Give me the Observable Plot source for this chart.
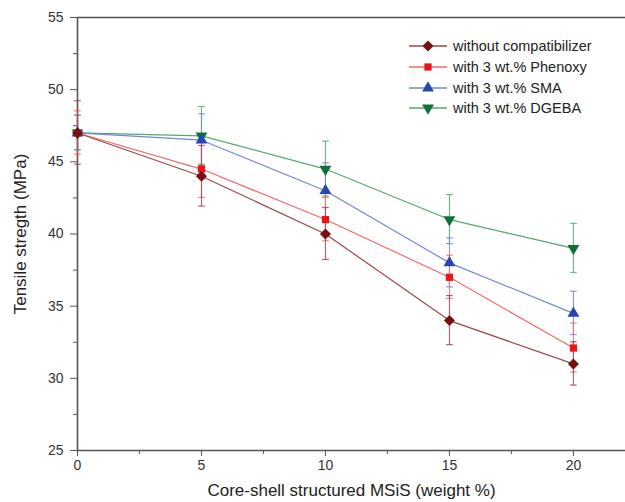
<!DOCTYPE html>
<html><head><meta charset="utf-8">
<script src="https://cdn.jsdelivr.net/npm/d3@7"></script>
<script src="https://cdn.jsdelivr.net/npm/@observablehq/plot@0.6"></script>
<style>
body{margin:0;background:#fff;font-family:"Liberation Sans",Arial,sans-serif;}
#wrap{position:relative;width:625px;height:502px;}
#legend{position:absolute;left:408px;top:36px;font-size:14.5px;color:#222;}
#legend .row{display:flex;align-items:center;height:20.7px;}
#legend svg{margin-right:5px;}
</style></head>
<body><div id="wrap"><div id="chart"></div><div id="legend"></div></div>
<script>
const loadings = [0, 5, 10, 15, 20];
const seriesNames = ["without compatibilizer", "with 3 wt.% Phenoxy", "with 3 wt.% SMA", "with 3 wt.% DGEBA"];
const withoutVals = [47, 44, 40, 34, 31];
const withoutErr = [2.2, 2.1, 1.8, 1.7, 1.5];
const phenoxyVals = [47, 44.5, 41, 37, 32.1];
const phenoxyErr = [1.5, 2.0, 1.5, 1.5, 1.7];
const smaVals = [47, 46.5, 43, 38, 34.5];
const smaErr = [1.2, 1.8, 1.9, 1.7, 1.5];
const dgebaVals = [47, 46.8, 44.5, 41, 39];
const dgebaErr = [1.2, 2.0, 1.9, 1.7, 1.7];
const yMajorTicks = [25, 30, 35, 40, 45, 50, 55];
const yMinorTicks = [27.5, 32.5, 37.5, 42.5, 47.5, 52.5];
const xMajorTicks = [0, 5, 10, 15, 20];
const xMinorTicks = [2.5, 7.5, 12.5, 17.5];

const triangleDown = {draw(ctx, size) {
  const s = Math.sqrt(size / (Math.sqrt(3) / 4));
  const h = s * Math.sqrt(3) / 2;
  ctx.moveTo(-s / 2, -h / 3);
  ctx.lineTo(s / 2, -h / 3);
  ctx.lineTo(0, 2 * h / 3);
  ctx.closePath();
}};
const triangleUp = {draw(ctx, size) {
  const s = Math.sqrt(size / (Math.sqrt(3) / 4));
  const h = s * Math.sqrt(3) / 2;
  ctx.moveTo(-s / 2, h / 3);
  ctx.lineTo(s / 2, h / 3);
  ctx.lineTo(0, -2 * h / 3);
  ctx.closePath();
}};
const diamond = {draw(ctx, size) {
  const r = Math.sqrt(size / 2);
  ctx.moveTo(0, -r); ctx.lineTo(r, 0); ctx.lineTo(0, r); ctx.lineTo(-r, 0); ctx.closePath();
}};
const square = {draw(ctx, size) {
  const r = Math.sqrt(size) / 2;
  ctx.rect(-r, -r, 2 * r, 2 * r);
}};

const styles = [
  {name: seriesNames[0], vals: withoutVals, err: withoutErr, marker: "#7a0f10", line: "#9a4a4a", sym: diamond, r: 4.4},
  {name: seriesNames[1], vals: phenoxyVals, err: phenoxyErr, marker: "#e8161b", line: "#f26a6a", sym: square, r: 4.1},
  {name: seriesNames[2], vals: smaVals, err: smaErr, marker: "#2447b0", line: "#7388d2", sym: triangleUp, r: 4.4},
  {name: seriesNames[3], vals: dgebaVals, err: dgebaErr, marker: "#11703a", line: "#53a86e", sym: triangleDown, r: 4.4}
];

function rows(s) {
  return loadings.map((x, i) => ({x, y: s.vals[i], lo: s.vals[i] - s.err[i], hi: s.vals[i] + s.err[i]}));
}

const marks = [];
const order = [3, 2, 1, 0];
for (const k of order) {
  const s = styles[k];
  marks.push(Plot.ruleX(rows(s), {x: "x", y1: "lo", y2: "hi", stroke: s.line, strokeWidth: 1.1, strokeOpacity: 0.85, markerStart: "tick", markerEnd: "tick"}));
}
for (const k of order) {
  const s = styles[k];
  marks.push(Plot.line(rows(s), {x: "x", y: "y", stroke: s.line, strokeWidth: 1.2}));
}
for (const k of order) {
  const s = styles[k];
  marks.push(Plot.dot(rows(s), {x: "x", y: "y", symbol: () => s.sym, fill: s.marker, stroke: "none", r: s.r}));
}

const axisColor = "#555";
const chart = Plot.plot({
  width: 625, height: 502,
  marginLeft: 77, marginRight: 0, marginTop: 17, marginBottom: 52,
  style: {fontFamily: "Liberation Sans, Arial, sans-serif", fontSize: "14px", color: "#333", background: "#fff"},
  x: {domain: [0, 22.1]},
  y: {domain: [25, 55]},
  symbol: {type: "identity"},
  marks: [
    Plot.axisY(yMinorTicks, {anchor: "left", tickSize: 4, tickFormat: () => "", label: null, stroke: axisColor}),
    Plot.axisY(yMajorTicks, {anchor: "left", tickSize: 7, tickPadding: 7, fontSize: 14, fill: "#333", stroke: axisColor, label: "Tensile stregth (MPa)", labelAnchor: "center", labelArrow: "none", labelOffset: 64}),
    Plot.axisX(xMinorTicks, {anchor: "bottom", tickSize: 4, tickFormat: () => "", label: null, stroke: axisColor}),
    Plot.axisX(xMajorTicks, {anchor: "bottom", tickSize: 6, tickPadding: 4, fontSize: 14, fill: "#333", stroke: axisColor, label: "Core-shell structured MSiS (weight %)", labelAnchor: "center", labelArrow: "none", labelOffset: 45}),
    Plot.ruleY([25], {stroke: axisColor, strokeWidth: 1.6}),
    Plot.ruleY([55], {stroke: axisColor, strokeWidth: 1.6}),
    Plot.ruleX([0], {stroke: axisColor, strokeWidth: 1.6}),
    ...marks
  ]
});
document.getElementById("chart").appendChild(chart);
d3.select(chart).selectAll("[aria-label='y-axis label'] text, [aria-label='x-axis label'] text").style("font-size", "17px").attr("fill", "#222");

const leg = document.getElementById("legend");
for (const s of styles) {
  const row = document.createElement("div");
  row.className = "row";
  const sw = d3.create("svg").attr("width", 40).attr("height", 14);
  sw.append("line").attr("x1", 1).attr("x2", 39).attr("y1", 7).attr("y2", 7).attr("stroke", s.line).attr("stroke-width", 1.3);
  const p = d3.path(); s.sym.draw(p, s.r * s.r * Math.PI);
  sw.append("path").attr("d", p.toString()).attr("transform", "translate(20,7)").attr("fill", s.marker);
  row.appendChild(sw.node());
  const t = document.createElement("span"); t.textContent = s.name; row.appendChild(t);
  leg.appendChild(row);
}
</script></body></html>
